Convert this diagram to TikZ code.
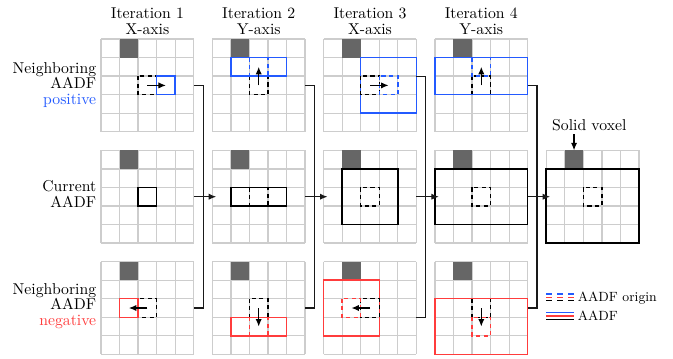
\documentclass[tikz,border=0pt]{standalone}
\usetikzlibrary{arrows.meta,calc}
\definecolor{aadfblue}{RGB}{35,90,255}
\definecolor{aadfred}{RGB}{255,60,60}
\definecolor{voxelgray}{RGB}{102,102,102}
\definecolor{gridgray}{RGB}{205,205,205}
\newcommand\cellsz{11.8pt}
\newcommand\ingrid[2]{\begin{scope}[shift={(#1.north west)},x=\cellsz,y=-\cellsz]#2\end{scope}}
\newcommand\gridat[3]{%
  \node[gridnode] (#1) at (#2,#3) {};
  \ingrid{#1}{%
    \foreach \k in {0,...,5}{\draw[gridline] (\k,0) -- (\k,5); \draw[gridline] (0,\k) -- (5,\k);}
    \fill[voxel] (1,0) rectangle (2,1);}}
\tikzset{
  gridnode/.style={rectangle, minimum size=59pt, inner sep=0pt, outer sep=0pt},
  gridline/.style={draw=gridgray, line width=0.8pt},
  voxel/.style={fill=voxelgray},
  aadf/.style={line width=0.95pt},
  orig/.style={line width=0.95pt, dash pattern=on 2.6pt off 2.2pt},
  legdash/.style={line width=0.9pt, dash pattern=on 3.6pt off 3.5pt},
  arr/.style={-{Latex[length=4.8pt,width=4pt]}, line width=0.75pt},
  conn/.style={draw=black!90, line width=0.7pt},
  title/.style={align=center, anchor=south, inner sep=0pt, font=\fontsize{10}{9.8}\selectfont},
  rowlabel/.style={align=right, anchor=east, inner sep=0pt, font=\fontsize{10}{9.8}\selectfont},
  legtext/.style={anchor=west, inner sep=0pt, font=\fontsize{8.5}{10}\selectfont}
}
\begin{document}
\begin{tikzpicture}[x=0.636pt, y=-0.636pt]
\useasboundingbox (0,0) rectangle (673,358);

% grids
\gridat{G11}{147.4}{85.4}
\gridat{G21}{147.4}{196.7}
\gridat{G31}{147.4}{308.0}
\gridat{G12}{258.7}{85.4}
\gridat{G22}{258.7}{196.7}
\gridat{G32}{258.7}{308.0}
\gridat{G13}{370.0}{85.4}
\gridat{G23}{370.0}{196.7}
\gridat{G33}{370.0}{308.0}
\gridat{G14}{481.3}{85.4}
\gridat{G24}{481.3}{196.7}
\gridat{G34}{481.3}{308.0}
\gridat{G25}{592.6}{196.7}

% titles
\node[title] (T1) at (147.4,34.5) {Iteration 1\\X-axis};
\node[title] (T2) at (258.7,34.5) {Iteration 2\\Y-axis};
\node[title] (T3) at (370.0,34.5) {Iteration 3\\X-axis};
\node[title] (T4) at (481.3,34.5) {Iteration 4\\Y-axis};

% row labels
\node[rowlabel] (L1) at (96.5,84.8) {Neighboring\\AADF\\\textcolor{aadfblue}{positive}};
\node[rowlabel] (L2) at (96.5,194.1) {Current\\AADF};
\node[rowlabel] (L3) at (96.5,305.8) {Neighboring\\AADF\\\textcolor{aadfred}{negative}};

% iteration 1
\ingrid{G11}{\draw[orig] (2,2) rectangle (3,3);
  \draw[aadf,aadfblue] (3,2) rectangle (4,3);
  \draw[arr] (2.5,2.5) -- (3.5,2.5);}
\ingrid{G21}{\draw[aadf] (2,2) rectangle (3,3);}
\ingrid{G31}{\draw[orig] (2,2) rectangle (3,3);
  \draw[aadf,aadfred] (1,2) rectangle (2,3);
  \draw[arr] (2.5,2.5) -- (1.5,2.5);}

% iteration 2
\ingrid{G12}{\draw[orig] (2,2) rectangle (3,3);
  \draw[aadf,aadfblue] (1,1) rectangle (4,2);
  \draw[orig,aadfblue] (2,1) rectangle (3,2);
  \draw[arr] (2.5,2.5) -- (2.5,1.5);}
\ingrid{G22}{\draw[aadf] (1,2) rectangle (4,3);
  \draw[orig] (2,2) rectangle (3,3);}
\ingrid{G32}{\draw[orig] (2,2) rectangle (3,3);
  \draw[aadf,aadfred] (1,3) rectangle (4,4);
  \draw[orig,aadfred] (2,3) rectangle (3,4);
  \draw[arr] (2.5,2.5) -- (2.5,3.5);}

% iteration 3
\ingrid{G13}{\draw[aadf,aadfblue] (2,1) rectangle (5,4);
  \draw[orig] (2,2) rectangle (3,3);
  \draw[orig,aadfblue] (3,2) rectangle (4,3);
  \draw[arr] (2.5,2.5) -- (3.5,2.5);}
\ingrid{G23}{\draw[aadf] (1,1) rectangle (4,4);
  \draw[orig] (2,2) rectangle (3,3);}
\ingrid{G33}{\draw[aadf,aadfred] (0,1) rectangle (3,4);
  \draw[orig] (2,2) rectangle (3,3);
  \draw[orig,aadfred] (1,2) rectangle (2,3);
  \draw[arr] (2.5,2.5) -- (1.5,2.5);}

% iteration 4
\ingrid{G14}{\draw[orig] (2,2) rectangle (3,3);
  \draw[aadf,aadfblue] (0,1) rectangle (5,3);
  \draw[orig,aadfblue] (2,1) rectangle (3,2);
  \draw[arr] (2.5,2.5) -- (2.5,1.5);}
\ingrid{G24}{\draw[aadf] (0,1) rectangle (5,4);
  \draw[orig] (2,2) rectangle (3,3);}
\ingrid{G34}{\draw[orig] (2,2) rectangle (3,3);
  \draw[aadf,aadfred] (0,2) rectangle (5,5);
  \draw[orig,aadfred] (2,3) rectangle (3,4);
  \draw[arr] (2.5,2.5) -- (2.5,3.5);}

% result
\ingrid{G25}{\draw[aadf] (0,1) rectangle (5,5);
  \draw[orig] (2,2) rectangle (3,3);
  \coordinate (SV) at (1.5,0);}
\node[anchor=base, inner sep=0pt] (SVL) at (589.3,130.7) {Solid voxel};
\draw[arr] ([yshift=-1.8pt]SVL.south -| SV) -- (SV);

% connectors
\coordinate (J1) at (203.1,196.7);
\coordinate (J2) at (314.4,196.7);
\coordinate (J3) at (425.7,196.7);
\coordinate (J4) at (537.0,196.7);
\draw[conn] (G11.east) -| (J1) |- (G31.east);
\draw[conn] (G12.east) -| (J2) |- (G32.east);
\draw[conn] ([yshift=5.9pt]G13.east) -| (J3) |- ([yshift=-5.9pt]G33.east);
\draw[conn] (G14.east) -| (J4) |- (G34.east);
\draw[conn,arr] (G21.east) -- ([xshift=2.5pt]G22.west);
\draw[conn,arr] (G22.east) -- ([xshift=2.5pt]G23.west);
\draw[conn,arr] (G23.east) -- ([xshift=2.5pt]G24.west);
\draw[conn,arr] (G24.east) -- ([xshift=2.5pt]G25.west);

% legend
\draw[legdash,aadfblue] (546,294.0) -- (574,294.0);
\draw[legdash,aadfred] (546,297.3) -- (574,297.3);
\draw[legdash,black] (546,300.6) -- (574,300.6);
\draw[aadf,aadfblue] (546,312.7) -- (574,312.7);
\draw[aadf,aadfred] (546,316.0) -- (574,316.0);
\draw[aadf,black] (546,319.3) -- (574,319.3);
\node[legtext] (LG1) at (577.5,297.6) {AADF origin};
\node[legtext] (LG2) at (577.5,316.0) {AADF};
\end{tikzpicture}
\end{document}
